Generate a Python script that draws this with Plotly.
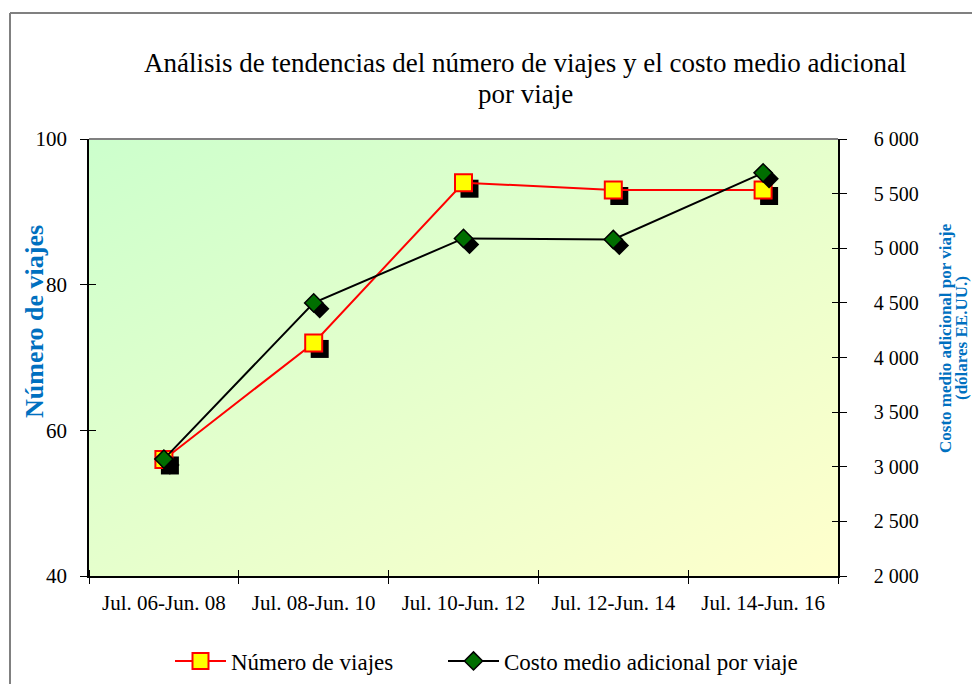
import base64
import plotly.graph_objects as go

# ---------------- data ----------------
categories = ["Jul. 06-Jun. 08", "Jul. 08-Jun. 10", "Jul. 10-Jun. 12",
              "Jul. 12-Jun. 14", "Jul. 14-Jun. 16"]
numero_viajes = [56, 72, 94, 93, 93]
costo_medio = [3070, 4500, 5090, 5080, 5690]
y1_ticks = [40, 60, 80, 100]
y2_ticks = [2000, 2500, 3000, 3500, 4000, 4500, 5000, 5500, 6000]

# ---------------- layout geometry ----------------
W, H = 972, 684
PL, PR, PT, PB = 89, 838, 139, 576  # plot area in page pixels
L, T, R, B = PL, PT, W - PR, H - PB
pw, ph = PR - PL, PB - PT
y1_range = [40, 100]
y2_range = [2000, 6000]
x_range = [-0.5, len(categories) - 0.5]
x_idx = list(range(len(categories)))
boundaries = [i - 0.5 for i in range(len(categories) + 1)]

FONT = "Liberation Serif"
BLUE = "#0070C0"

def fx(px):
    return (px - PL) / pw

def fy(py):
    return (PB - py) / ph

def cx(px):
    return px / W

def cy(py):
    return 1 - py / H

# shadow offsets (pixels -> data units)
SH = 6
dx = SH * (x_range[1] - x_range[0]) / pw
dy1 = SH * (y1_range[1] - y1_range[0]) / ph
dy2 = SH * (y2_range[1] - y2_range[0]) / ph

fig = go.Figure()

fig.add_trace(go.Scatter(
    x=[v + dx for v in x_idx], y=[v - dy1 for v in numero_viajes],
    mode="markers", marker=dict(symbol="square", size=18, color="black", line=dict(width=0)),
    showlegend=False, hoverinfo="skip", xaxis="x", yaxis="y"))
fig.add_trace(go.Scatter(
    x=x_idx, y=numero_viajes, name="Número de viajes",
    mode="lines+markers", legend="legend",
    line=dict(color="#FF0000", width=2),
    marker=dict(symbol="square", size=17, color="#FFFF00", line=dict(color="#FF0000", width=2)),
    xaxis="x", yaxis="y"))
fig.add_trace(go.Scatter(
    x=[v + dx for v in x_idx], y=[v - dy2 for v in costo_medio],
    mode="markers", marker=dict(symbol="diamond", size=15, color="black", line=dict(width=0)),
    showlegend=False, hoverinfo="skip", xaxis="x", yaxis="y2"))
fig.add_trace(go.Scatter(
    x=x_idx, y=costo_medio, name="Costo medio adicional por viaje",
    mode="lines+markers", legend="legend2",
    line=dict(color="#000000", width=2),
    marker=dict(symbol="diamond", size=14, color="#006E00", line=dict(color="#000000", width=1.5)),
    xaxis="x", yaxis="y2"))
fig.add_trace(go.Scatter(x=[], y=[], xaxis="x2", yaxis="y3", showlegend=False, hoverinfo="skip"))
fig.add_trace(go.Scatter(x=[], y=[], xaxis="x", yaxis="y4", showlegend=False, hoverinfo="skip"))

svg = ('<svg xmlns="http://www.w3.org/2000/svg" width="200" height="200" preserveAspectRatio="none">'
       '<defs><linearGradient id="g" x1="0" y1="0" x2="1" y2="1">'
       '<stop offset="0" stop-color="#CCFFCC"/><stop offset="1" stop-color="#FFFFCC"/>'
       '</linearGradient></defs><rect width="200" height="200" fill="url(#g)"/></svg>')
src = "data:image/svg+xml;base64," + base64.b64encode(svg.encode()).decode()

legfont = dict(family=FONT, size=23, color="black")

fig.update_layout(
    width=W, height=H,
    margin=dict(l=L, r=R, t=T, b=B, autoexpand=False),
    paper_bgcolor="white", plot_bgcolor="rgba(0,0,0,0)",
    separators=". ",
    font=dict(family=FONT, color="black"),
    images=[dict(source=src, xref="paper", yref="paper", x=0, y=1, sizex=1, sizey=1,
                 xanchor="left", yanchor="top", sizing="stretch", layer="below")],
    xaxis=dict(range=x_range, tickvals=x_idx, ticktext=categories, ticks="", automargin=False,
               showgrid=False, zeroline=False, showline=True, linecolor="black", linewidth=1.5,
               tickfont=dict(family=FONT, size=21, color="black"), ticklabelstandoff=7),
    xaxis2=dict(range=x_range, overlaying="x", anchor="free", position=7 / ph,
                tickvals=boundaries, ticks="outside", ticklen=14, tickwidth=1.2, tickcolor="black",
                showticklabels=False, showgrid=False, zeroline=False, showline=False),
    yaxis=dict(range=y1_range, tickvals=y1_ticks, ticks="outside", ticklen=7, tickwidth=1.2,
               tickcolor="black", showgrid=False, zeroline=False, showline=True, automargin=False,
               linecolor="black", linewidth=1.5, tickfont=dict(family=FONT, size=21, color="black"),
               ticklabelstandoff=9),
    yaxis3=dict(range=y1_range, overlaying="y", anchor="free", position=7 / pw, side="left",
                tickvals=y1_ticks, ticks="outside", ticklen=7, tickwidth=1.2, tickcolor="black",
                showticklabels=False, showgrid=False, zeroline=False, showline=False),
    yaxis2=dict(range=y2_range, tickvals=y2_ticks, tickformat=",d", overlaying="y", side="right",
                anchor="x", ticks="outside", ticklen=7, tickwidth=1.2, tickcolor="black", automargin=False,
                showgrid=False, zeroline=False, showline=True, linecolor="black", linewidth=1.5,
                tickfont=dict(family=FONT, size=20, color="black"), ticklabelstandoff=23),
    yaxis4=dict(range=y2_range, overlaying="y", anchor="free", position=1 - 7 / pw, side="right",
                tickvals=y2_ticks, ticks="outside", ticklen=7, tickwidth=1.2, tickcolor="black",
                showticklabels=False, showgrid=False, zeroline=False, showline=False),
    legend=dict(orientation="h", xref="container", yref="container", x=cx(170), xanchor="left",
                y=cy(661), yanchor="middle", font=legfont, bgcolor="rgba(0,0,0,0)", itemwidth=51),
    legend2=dict(orientation="h", xref="container", yref="container", x=cx(443), xanchor="left",
                 y=cy(661), yanchor="middle", font=legfont, bgcolor="rgba(0,0,0,0)", itemwidth=51),
    shapes=[
        dict(type="line", xref="paper", yref="paper", x0=0, x1=1, y0=1, y1=1,
             line=dict(color="#808080", width=2)),
        dict(type="line", xref="paper", yref="paper", x0=fx(10), x1=fx(980),
             y0=fy(13), y1=fy(13), line=dict(color="#808080", width=2)),
        dict(type="line", xref="paper", yref="paper", x0=fx(10), x1=fx(10),
             y0=fy(13), y1=fy(700), line=dict(color="#808080", width=2)),
    ],
    annotations=[
        dict(text="Análisis de tendencias del número de viajes y el costo medio adicional",
             xref="paper", yref="paper", x=fx(525), y=fy(63),
             xanchor="center", yanchor="middle", showarrow=False,
             font=dict(family=FONT, size=27, color="black")),
        dict(text="por viaje",
             xref="paper", yref="paper", x=fx(525), y=fy(94),
             xanchor="center", yanchor="middle", showarrow=False,
             font=dict(family=FONT, size=27, color="black")),
        dict(text="<b>Número de viajes</b>", xref="paper", yref="paper",
             x=fx(34), y=fy(322), xanchor="center", yanchor="middle",
             textangle=-90, showarrow=False, font=dict(family=FONT, size=26, color=BLUE)),
        dict(text="<b>Costo medio adicional por viaje</b>", xref="paper", yref="paper",
             x=fx(945), y=fy(338), xanchor="center", yanchor="middle",
             textangle=-90, showarrow=False, font=dict(family=FONT, size=17, color=BLUE)),
        dict(text="<b>(dólares EE.UU.)</b>", xref="paper", yref="paper",
             x=fx(961), y=fy(338), xanchor="center", yanchor="middle",
             textangle=-90, showarrow=False, font=dict(family=FONT, size=17, color=BLUE)),
    ],
)

fig.write_html("out.html", config={"displayModeBar": False},
               post_script="document.body.style.margin='0';document.body.style.overflow='hidden';")
